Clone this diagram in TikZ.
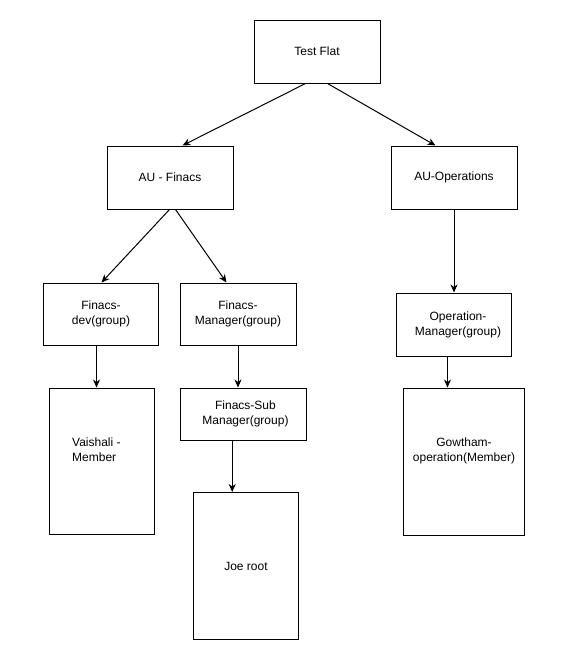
\documentclass[tikz,border=0pt]{standalone}
\usepackage{fontspec}
\setmainfont{Liberation Sans}
\usetikzlibrary{arrows.meta,calc}
\begin{document}
\begin{tikzpicture}[x=1pt,y=-1pt,
  box/.style={draw=black,line width=1pt,inner sep=0pt,align=center,
    font=\fontsize{12}{15}\selectfont},
  lbl/.style={inner sep=0pt,font=\fontsize{12}{15}\selectfont},
  conn/.style={draw=black,line width=1pt,-{Stealth[length=8pt,width=7pt,inset=2.5pt]}}]
\useasboundingbox[fill=white] (0,0) rectangle (561,662);
% boxes
\node[box,minimum width=126pt,minimum height=63pt] (testflat) at (317,51.5) {Test Flat};
\node[box,minimum width=126pt,minimum height=63pt] (aufin) at (170,177.5) {AU - Finacs};
\node[box,minimum width=126pt,minimum height=63pt] (auops) at (454,177.5) {AU-Operations};
\node[box,minimum width=115pt,minimum height=62pt] (fdev) at (101,314) {Finacs-\\dev(group)};
\node[box,minimum width=116pt,minimum height=62pt] (fman) at (238,314) {Finacs-\\Manager(group)};
\node[box,minimum width=115pt,minimum height=63pt] (opman) at (453.5,324.5) {\hspace*{9pt}Operation-\\\hspace*{9pt}Manager(group)};
\node[box,minimum width=105pt,minimum height=146pt] (vaish) at (101.5,461) {};
\node[box,minimum width=126pt,minimum height=52pt] (fsub) at (243.5,414) {\hspace*{4pt}Finacs-Sub\\\hspace*{4pt}Manager(group)};
\node[box,minimum width=121pt,minimum height=147pt] (gowtham) at (464,461.5) {};
\node[box,minimum width=105pt,minimum height=147pt] (joe) at (246,566) {Joe root};
% texts of the tall boxes
\node[lbl,align=left,anchor=west] (vaisht) at (72,450) {Vaishali -\\Member};
\node[lbl,align=center] (gowthamt) at (464,450.5) {Gowtham-\\operation(Member)};
% connectors
\draw[conn] ($(testflat.south west)+(52,0)$) -- ($(aufin.north west)+(76,0)$);
\draw[conn] ($(testflat.south west)+(74,0)$) -- ($(auops.north west)+(45,0)$);
\draw[conn] ($(aufin.south west)+(63,0)$) -- ($(fdev.north west)+(58.5,0)$);
\draw[conn] ($(aufin.south west)+(69,0)$) -- ($(fman.north west)+(47,0)$);
\draw[conn] (auops.south) -- (auops.south |- opman.north);
\draw[conn] ($(fdev.south west)+(53.5,0)$) coordinate (c1) -- (c1 |- vaish.north);
\draw[conn] (fman.south) -- (fman.south |- fsub.north);
\draw[conn] ($(opman.south west)+(52,0)$) coordinate (c2) -- (c2 |- gowtham.north);
\draw[conn] ($(fsub.south west)+(52.2,0)$) coordinate (c3) -- (c3 |- joe.north);
\end{tikzpicture}
\end{document}
